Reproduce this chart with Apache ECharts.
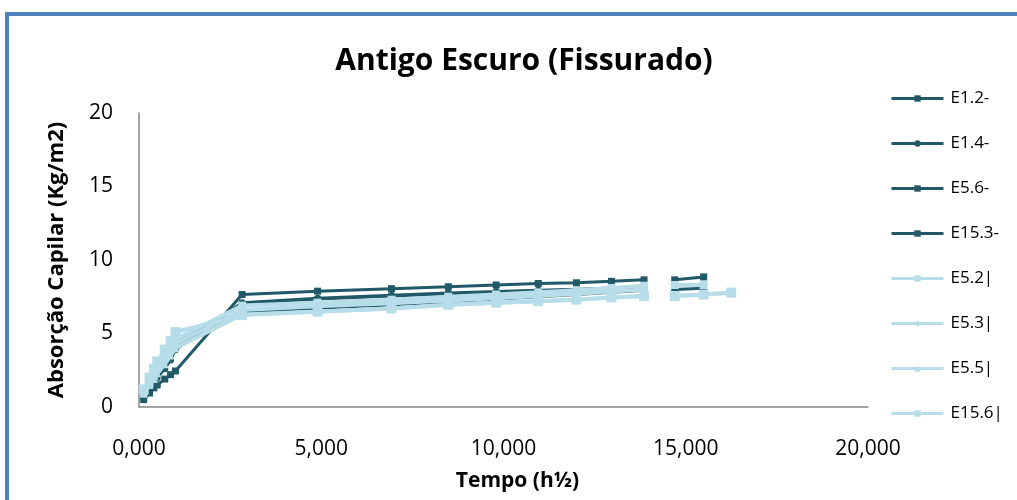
<!DOCTYPE html>
<html><head><meta charset="utf-8">
<script src="https://cdn.jsdelivr.net/npm/echarts@6/dist/echarts.min.js"></script>
<style>html,body{margin:0;padding:0;background:#fff}#c{width:1017px;height:500px}</style>
</head><body><div id="c"></div>
<script>
// Tempo (h½) — null y marks the break in the lines
const tempo = [0.129, 0.289, 0.408, 0.5, 0.707, 0.866, 1.0, 2.828, 4.899, 6.928, 8.485, 9.798, 10.954, 12.0, 12.961, 13.856, 14.3, 14.697, 15.492, 16.248];
const seriesNames = ['E1.2-', 'E1.4-', 'E5.6-', 'E15.3-', 'E5.2|', 'E5.3|', 'E5.5|', 'E15.6|'];
const E1_2 = [0.5, 0.95, 1.3, 1.5, 1.9, 2.2, 2.45, 7.65, 7.88, 8.05, 8.18, 8.3, 8.4, 8.45, 8.55, 8.65, null, 8.65, 8.85, null];
const E1_4 = [0.6, 1.2, 1.6, 2.0, 2.6, 3.2, 3.9, 7.1, 7.4, 7.6, 7.75, 7.85, 7.95, 8.0, 8.05, 8.1, null, 8.0, 8.08, null];
const E5_6 = [0.7, 1.3, 1.8, 2.2, 2.9, 3.4, 4.2, 7.05, 7.35, 7.55, 7.7, 7.8, 7.9, 8.0, 8.1, 8.2, null, null, null, null];
const E15_3 = [0.8, 1.4, 2.0, 2.4, 3.0, 3.6, 4.4, 6.45, 6.72, 6.95, 7.15, 7.35, 7.5, 7.65, 7.8, 7.95, null, null, null, null];
const E5_2 = [1.0, 1.6, 2.1, 2.6, 3.4, 4.0, 4.6, 6.9, 7.1, 7.3, 7.5, 7.65, 7.8, 7.95, 8.1, 8.25, null, 8.3, 8.3, null];
const E5_3 = [1.1, 1.7, 2.2, 2.7, 3.2, 3.7, 4.3, 6.6, 6.85, 7.05, 7.25, 7.4, 7.55, 7.7, 7.85, 8.0, null, null, null, null];
const E5_5 = [0.9, 1.5, 1.9, 2.3, 2.9, 3.5, 4.0, 6.3, 6.5, 6.7, 6.95, 7.1, 7.2, 7.3, 7.45, 7.55, null, 7.55, 7.65, 7.78];
const E15_6 = [1.2, 2.0, 2.6, 3.1, 3.9, 4.5, 5.1, 6.25, 6.48, 6.7, 6.95, 7.1, 7.2, 7.3, 7.45, 7.55, null, 7.55, 7.65, 7.78];
const xTicks = [0, 5, 10, 15, 20];
const yTicks = [0, 5, 10, 15, 20];

const values = [E1_2, E1_4, E5_6, E15_3, E5_2, E5_3, E5_5, E15_6];
const DARK = '#215968', LIGHT = '#B7DEE8';
const styles = [
  {c: DARK, w: 3, s: 'rect', ss: 7},
  {c: DARK, w: 3, s: 'circle', ss: 7},
  {c: DARK, w: 3, s: 'rect', ss: 6},
  {c: DARK, w: 3, s: 'rect', ss: 3},
  {c: LIGHT, w: 4, s: 'rect', ss: 8},
  {c: LIGHT, w: 4, s: 'diamond', ss: 8},
  {c: LIGHT, w: 4, s: 'triangle', ss: 8},
  {c: LIGHT, w: 4, s: 'rect', ss: 10}
];
const FONT = '"Open Sans", sans-serif';
const fmt = v => v.toFixed(3).replace('.', ',');

const series = seriesNames.map((n, i) => ({
  name: n, type: 'line',
  data: tempo.map((t, k) => [t, values[i][k] === null ? '-' : values[i][k]]),
  connectNulls: false,
  symbol: styles[i].s, symbolSize: styles[i].ss,
  lineStyle: {color: styles[i].c, width: styles[i].w},
  itemStyle: {color: styles[i].c},
  z: i < 4 ? 2 : 3,
  animation: false
}));

const chart = echarts.init(document.getElementById('c'), null, {renderer: 'canvas'});
chart.setOption({
  animation: false,
  title: {text: 'Antigo Escuro (Fissurado)', left: 519, textAlign: 'center', top: 41,
    textStyle: {fontFamily: FONT, fontSize: 30, fontWeight: 'bold', color: '#000'}},
  grid: {left: 139, right: 149, top: 113, bottom: 93},
  legend: {orient: 'vertical', left: 890, top: 90, padding: 0, itemWidth: 52, itemHeight: 8, itemGap: 28,
    data: seriesNames, lineStyle: {width: 3},
    textStyle: {fontFamily: FONT, fontSize: 17, lineHeight: 14, color: '#000', padding: [0, 0, 0, 2]}},
  xAxis: {type: 'value', min: xTicks[0], max: xTicks[xTicks.length - 1], interval: 5,
    axisLine: {lineStyle: {color: '#868686', width: 1.5}}, axisTick: {show: false},
    splitLine: {show: false},
    axisLabel: {formatter: fmt, fontFamily: FONT, fontSize: 21, color: '#000', margin: 32},
    name: 'Tempo (h½)', nameLocation: 'middle', nameGap: 64,
    nameTextStyle: {fontFamily: FONT, fontSize: 21, fontWeight: 'bold', color: '#000', padding: [0, 0, 0, 28]}},
  yAxis: {type: 'value', min: yTicks[0], max: yTicks[yTicks.length - 1], interval: 5,
    axisLine: {show: true, lineStyle: {color: '#868686', width: 1.5}}, axisTick: {show: false},
    splitLine: {show: false},
    axisLabel: {fontFamily: FONT, fontSize: 21, color: '#000', margin: 26},
    name: 'Absorção Capilar (Kg/m2)', nameLocation: 'middle', nameGap: 71,
    nameTextStyle: {fontFamily: FONT, fontSize: 22, fontWeight: 'bold', color: '#000'}},
  graphic: [{type: 'rect', shape: {x: 7, y: 14, width: 1200, height: 700},
    style: {fill: 'none', stroke: '#4F81BD', lineWidth: 4}, z: -1}],
  series: series
});
</script></body></html>
